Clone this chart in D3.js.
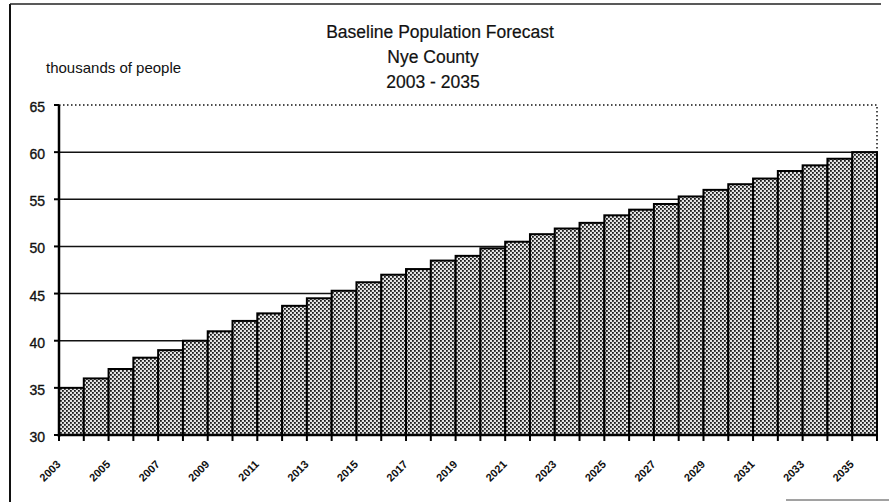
<!DOCTYPE html>
<html>
<head>
<meta charset="utf-8">
<script src="https://cdn.jsdelivr.net/npm/d3@7"></script>
<style>
  body { margin: 0; background: #fff; }
  svg { display: block; font-family: 'Liberation Sans', Arial, sans-serif; }
  .titleText { font-size: 17.5px; fill: #111; stroke: #111; stroke-width: 0.2px; }
  .unitText { font-size: 15px; fill: #111; }
  .tickText { font-size: 14px; fill: #111; stroke: #111; stroke-width: 0.35px; }
  .yearText { font-size: 11px; font-weight: bold; fill: #111; }
</style>
</head>
<body>
<svg id="svg_nye" width="889" height="502"></svg>
<script>
const years = [
  2003, 2004, 2005, 2006, 2007, 2008, 2009, 2010, 2011, 2012, 2013,
  2014, 2015, 2016, 2017, 2018, 2019, 2020, 2021, 2022, 2023, 2024,
  2025, 2026, 2027, 2028, 2029, 2030, 2031, 2032, 2033, 2034, 2035,
];
const population = [
  35.0, 36.0, 37.0, 38.2, 39.0, 40.0, 41.0, 42.1, 42.9, 43.7, 44.5,
  45.3, 46.2, 47.0, 47.6, 48.5, 49.0, 49.8, 50.5, 51.3, 51.9, 52.5,
  53.3, 53.9, 54.5, 55.3, 56.0, 56.6, 57.2, 58.0, 58.6, 59.3, 60.0,
];
const yTicks = [30, 35, 40, 45, 50, 55, 60, 65];
const yearLabels = [
  2003, 2005, 2007, 2009, 2011, 2013, 2015, 2017, 2019,
  2021, 2023, 2025, 2027, 2029, 2031, 2033, 2035,
];
const titleLines = ['Baseline Population Forecast', 'Nye County', '2003 - 2035'];

const width = 889;
const height = 502;
const plotLeft = 59;
const plotRight = 877;
const plotTop = 105;
const plotBottom = 435;

const svg = d3.select('#svg_nye');

// dotted halftone fill like the printed chart
const defs = svg.append('defs');
const pattern = defs.append('pattern')
  .attr('id', 'dots')
  .attr('patternUnits', 'userSpaceOnUse')
  .attr('width', 4)
  .attr('height', 4);
pattern.append('rect').attr('width', 4).attr('height', 4).attr('fill', '#e2e2e2');
pattern.append('rect').attr('x', 0).attr('y', 0).attr('width', 1.8).attr('height', 1.8).attr('fill', '#1a1a1a');
pattern.append('rect').attr('x', 2).attr('y', 2).attr('width', 1.8).attr('height', 1.8).attr('fill', '#1a1a1a');

const x = d3.scaleBand()
  .domain(years)
  .range([plotLeft, plotRight])
  .padding(0);

const y = d3.scaleLinear()
  .domain([30, 65])
  .range([plotBottom, plotTop]);

// page frame (scan edges)
svg.append('line')
  .attr('x1', 10).attr('x2', 10).attr('y1', 4).attr('y2', height)
  .attr('stroke', '#111').attr('stroke-width', 2);
svg.append('line')
  .attr('x1', 10).attr('x2', width - 8).attr('y1', 4).attr('y2', 4)
  .attr('stroke', '#222').attr('stroke-width', 1.5);
svg.append('line')
  .attr('x1', 786).attr('x2', width).attr('y1', 500).attr('y2', 500)
  .attr('stroke', '#444').attr('stroke-width', 1);

// titles
svg.append('g')
  .selectAll('text')
  .data(titleLines)
  .enter()
  .append('text')
  .text((d) => d)
  .attr('x', (d, i) => (i === 0 ? 440 : 433))
  .attr('y', (d, i) => 38 + i * 25)
  .attr('text-anchor', 'middle')
  .attr('class', 'titleText');

svg.append('text')
  .text('thousands of people')
  .attr('x', 46)
  .attr('y', 73)
  .attr('class', 'unitText');

// gridlines
const grid = svg.append('g');
grid.selectAll('line')
  .data(yTicks.filter((t) => t > 30 && t < 65))
  .enter()
  .append('line')
  .attr('x1', plotLeft)
  .attr('x2', plotRight)
  .attr('y1', (d) => y(d))
  .attr('y2', (d) => y(d))
  .attr('stroke', '#111')
  .attr('stroke-width', 1.5);

// dotted plot border at top and right
svg.append('path')
  .attr('d', `M${plotLeft},${y(65)}H${plotRight}V${y(60)}`)
  .attr('fill', 'none')
  .attr('stroke', '#111')
  .attr('stroke-width', 1.5)
  .attr('stroke-dasharray', '1.5,2.5');

// bars
svg.append('g')
  .selectAll('rect')
  .data(population)
  .enter()
  .append('rect')
  .attr('x', (d, i) => x(years[i]))
  .attr('y', (d) => y(d))
  .attr('width', x.bandwidth())
  .attr('height', (d) => y(30) - y(d))
  .attr('fill', 'url(#dots)')
  .attr('stroke', '#000')
  .attr('stroke-width', 2);

// y axis
const yAxis = svg.append('g');
yAxis.append('line')
  .attr('x1', plotLeft).attr('x2', plotLeft)
  .attr('y1', y(65)).attr('y2', y(30) + 2)
  .attr('stroke', '#000').attr('stroke-width', 2.5);
yAxis.selectAll('.tick')
  .data(yTicks)
  .enter()
  .append('line')
  .attr('class', 'tick')
  .attr('x1', plotLeft - 5).attr('x2', plotLeft)
  .attr('y1', (d) => y(d)).attr('y2', (d) => y(d))
  .attr('stroke', '#000').attr('stroke-width', 2);
yAxis.selectAll('text')
  .data(yTicks)
  .enter()
  .append('text')
  .text((d) => d)
  .attr('x', plotLeft - 14)
  .attr('y', (d) => y(d) + 7)
  .attr('text-anchor', 'end')
  .attr('class', 'tickText');

// x axis
const xAxis = svg.append('g');
xAxis.append('line')
  .attr('x1', plotLeft).attr('x2', plotRight)
  .attr('y1', y(30)).attr('y2', y(30))
  .attr('stroke', '#000').attr('stroke-width', 2.5);
xAxis.selectAll('.tick')
  .data(years.concat([null]))
  .enter()
  .append('line')
  .attr('class', 'tick')
  .attr('x1', (d, i) => plotLeft + i * x.bandwidth())
  .attr('x2', (d, i) => plotLeft + i * x.bandwidth())
  .attr('y1', y(30))
  .attr('y2', y(30) + 6)
  .attr('stroke', '#000').attr('stroke-width', 2);
xAxis.selectAll('text')
  .data(yearLabels)
  .enter()
  .append('text')
  .text((d) => d)
  .attr('transform', (d) => `translate(${x(d) + x.bandwidth() / 2 - 10}, ${y(30) + 30}) rotate(-45)`)
  .attr('text-anchor', 'end')
  .attr('class', 'yearText');
</script>
</body>
</html>
